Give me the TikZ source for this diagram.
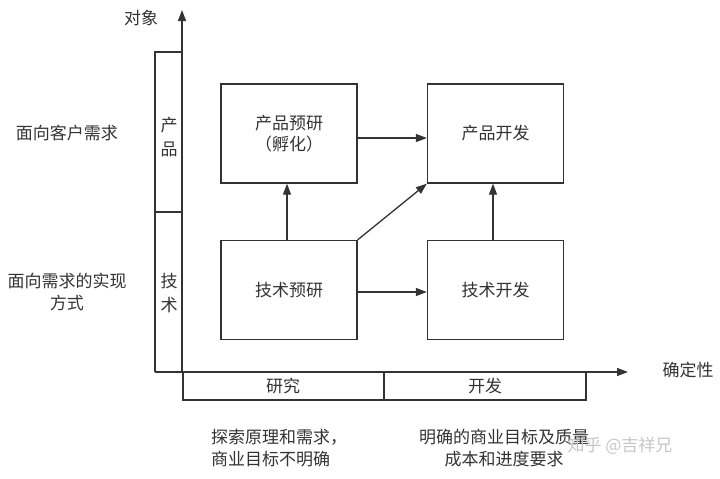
\documentclass[tikz,border=0pt]{standalone}
\usepackage{fontspec}
\newfontfamily\cjk{Noto Sans CJK SC}
\usetikzlibrary{arrows.meta}
\definecolor{ink}{HTML}{333333}
\begin{document}
\begin{tikzpicture}[x=1pt,y=-1pt,
  every node/.style={font=\cjk\fontsize{17}{21}\selectfont, text=ink, inner sep=0pt},
  boxnode/.style={draw=ink, line width=1.3pt, minimum width=136pt, minimum height=99pt, align=center},
  arr/.style={draw=ink, line width=1.3pt, -{Triangle[length=11pt,width=8pt]}},
  ln/.style={draw=ink, line width=1.3pt}]
\useasboundingbox (0,0) rectangle (720,479);
% boxes
\node[boxnode] (ppy) at (289,133.5) {产品预研\\（孵化）};
\node[boxnode] (pkf) at (495.5,133.5) {产品开发};
\node[boxnode] (jsy) at (289,290) {技术预研};
\node[boxnode] (jkf) at (495.5,290) {技术开发};
% connectors
\draw[arr] ([yshift=-4.5pt]ppy.east) -- ([yshift=-4.5pt]pkf.west);
\draw[arr] ([yshift=-2pt]jsy.east) -- ([yshift=-2pt]jkf.west);
\draw[arr] ([xshift=-2pt]jsy.north) -- ([xshift=-2pt]ppy.south);
\draw[arr] ([xshift=-2.5pt]jkf.north) -- ([xshift=-2.5pt]pkf.south);
\draw[arr] (jsy.north east) -- (pkf.south west);
% axes
\coordinate (O) at (182,372);
\coordinate (ytip) at (182,10);
\coordinate (xstart) at (155,372);
\coordinate (xtip) at (628,372);
\draw[arr] (O) -- (ytip);
\draw[arr] (xstart) -- (xtip);
% left strip
\draw[ln] (155,372) -- (155,52) -- (182,52);
\draw[ln] (155,212) -- (182,212);
% bottom strip
\draw[ln] (183,372) -- (183,400) -- (586,400) -- (586,372);
\draw[ln] (384,372) -- (384,400);
% axis labels
\node (dx) at (141,18) {对象};
\node (qd) at (688,370) {确定性};
% strip labels
\node[align=center, font=\cjk\fontsize{17}{24}\selectfont] (cp) at (169,137) {产\\品};
\node[align=center, font=\cjk\fontsize{17}{24}\selectfont] (js) at (169,293) {技\\术};
\node (yj) at (283,386) {研究};
\node (kf) at (485,386) {开发};
% left labels
\node (l1) at (67,133) {面向客户需求};
\node[align=center, font=\cjk\fontsize{17}{22}\selectfont] (l2) at (67,292) {面向需求的实现\\方式};
% bottom descriptions
\node[align=left, anchor=west, font=\cjk\fontsize{17}{22}\selectfont] (d1) at (211,448) {探索原理和需求，\\商业目标不明确};
\node[align=center, font=\cjk\fontsize{17}{22}\selectfont] (d2) at (504,448) {明确的商业目标及质量\\成本和进度要求};
% watermark
\node[text=gray!45, font=\cjk\fontsize{17}{20}\selectfont] (wm) at (620,446) {知乎 @吉祥兄};
\end{tikzpicture}
\end{document}
